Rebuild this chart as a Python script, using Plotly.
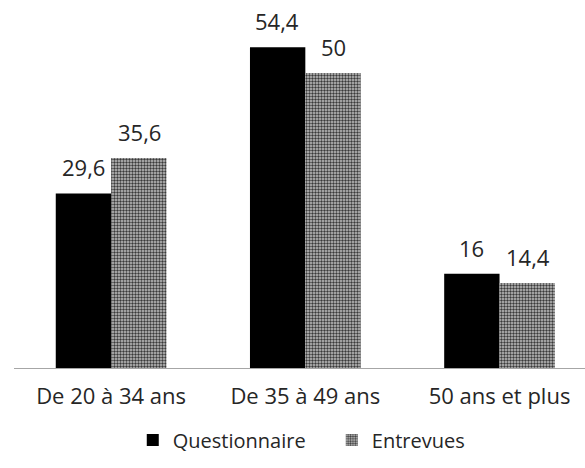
import plotly.graph_objects as go

categories = ["De 20 à 34 ans", "De 35 à 49 ans", "50 ans et plus"]
questionnaire = [29.6, 54.4, 16]
entrevues = [35.6, 50, 14.4]


def fr(v):
    return f"{v:g}".replace(".", ",")


font_family = "Open Sans, Noto Sans, sans-serif"
text_color = "#262626"

fig = go.Figure()
fig.add_trace(go.Bar(
    name="Questionnaire",
    x=categories,
    y=questionnaire,
    marker=dict(color="black", line=dict(width=0)),
))
fig.add_trace(go.Bar(
    name="Entrevues",
    x=categories,
    y=entrevues,
    marker=dict(
        color="#9a9a9a",
        line=dict(width=0),
        pattern=dict(shape=".", size=3, solidity=0.5,
                     fgcolor="#3a3a3a", bgcolor="#c4c4c4", fillmode="replace"),
    ),
))

# value labels above each bar, shifted to the centre of its bar in the group
for vals, dx in ((questionnaire, -28), (entrevues, 28)):
    for cat, v in zip(categories, vals):
        fig.add_annotation(
            x=cat, y=v, text=fr(v), showarrow=False,
            xref="x", yref="y", xshift=dx, yshift=9,
            yanchor="bottom",
            font=dict(family=font_family, size=22, color=text_color),
        )

fig.update_layout(
    width=585,
    height=468,
    margin=dict(l=14, r=0, t=20, b=100),
    paper_bgcolor="white",
    plot_bgcolor="white",
    barmode="group",
    bargap=0.43,
    bargroupgap=0,
    font=dict(family=font_family, size=22, color=text_color),
    showlegend=True,
    legend=dict(
        orientation="h",
        x=0.208,
        xanchor="left",
        y=-0.207,
        yanchor="middle",
        font=dict(size=20, color=text_color),
        itemwidth=30,
        entrywidth=154,
        tracegroupgap=0,
    ),
    xaxis=dict(
        range=[-0.5, 2.44],
        showline=True,
        linecolor="#a6a6a6",
        linewidth=1,
        ticks="",
        showgrid=False,
        ticklabelstandoff=9,
        tickfont=dict(size=22, color=text_color),
    ),
    yaxis=dict(
        range=[0, 59],
        visible=False,
        showgrid=False,
    ),
)

fig.write_html("out.html")
